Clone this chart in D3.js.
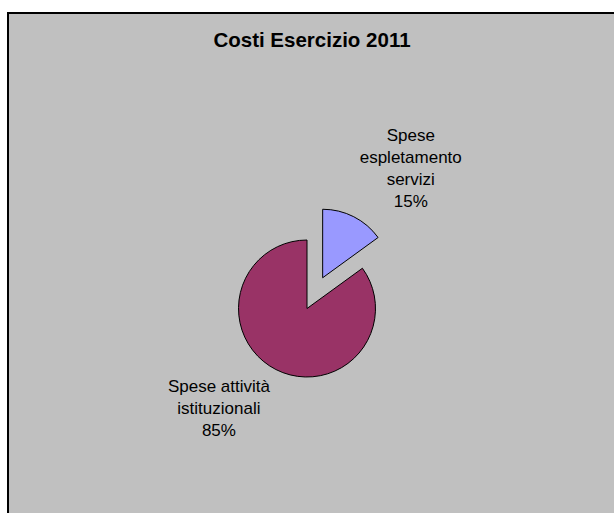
<!DOCTYPE html>
<html>
<head>
<meta charset="utf-8">
<script src="https://cdn.jsdelivr.net/npm/d3@7"></script>
<style>
  body { margin: 0; background: #fff; }
  svg { display: block; font-family: "Liberation Sans", Arial, sans-serif; }
</style>
</head>
<body>
<svg width="614" height="513"></svg>
<script>
// dati
const categories = ["Spese espletamento servizi", "Spese attività istituzionali"];
const values = [15, 85];
const labelLines = [["Spese", "espletamento", "servizi"], ["Spese attività", "istituzionali"]];
const colors = ["#9999FF", "#993366"];
const exploded = [true, false];
const title = "Costi Esercizio 2011";

const svg = d3.select("svg");
const width = +svg.attr("width");
const height = +svg.attr("height");

const cx = 307, cy = 308.5, radius = 68.5, explode = 34.5;

// sfondo area grafico
svg.append("rect")
  .attr("x", 8).attr("y", 13)
  .attr("width", width + 20).attr("height", height + 20)
  .attr("fill", "#C0C0C0")
  .attr("stroke", "#000")
  .attr("stroke-width", 2);

svg.append("text")
  .attr("x", 312).attr("y", 47)
  .attr("text-anchor", "middle")
  .attr("font-weight", "bold")
  .attr("font-size", "20.5px")
  .text(title);

const total = d3.sum(values);
const pie = d3.pie().sort(null).value(d => d.value);
const arc = d3.arc().innerRadius(0).outerRadius(radius);

const data = categories.map((c, i) => ({
  name: c, value: values[i], color: colors[i], lines: labelLines[i], exploded: exploded[i]
}));

const arcs = pie(data);

const g = svg.append("g").attr("transform", `translate(${cx},${cy})`);

arcs.forEach(function(a) {
  const mid = (a.startAngle + a.endAngle) / 2;
  const off = a.data.exploded ? explode : 0;
  const ox = Math.sin(mid) * off, oy = -Math.cos(mid) * off;

  g.append("path")
    .attr("d", arc(a))
    .attr("transform", `translate(${ox},${oy})`)
    .attr("fill", a.data.color)
    .attr("stroke", "#000")
    .attr("stroke-width", 1);

  // etichetta: angolo del riquadro sul punto esterno
  const ax = ox + Math.sin(mid) * (radius + 6.5);
  const ay = oy - Math.cos(mid) * (radius + 6.5);
  const lines = a.data.lines.concat([d3.format(".0%")(a.data.value / total)]);
  const lh = 22;

  const t = g.append("text")
    .attr("font-size", "17px")
    .attr("text-anchor", "middle")
    .attr("fill", "#000");
  lines.forEach(l => t.append("tspan").text(l));
  const w = d3.max(t.selectAll("tspan").nodes(), n => n.getComputedTextLength()) + 6;

  const boxX = Math.sin(mid) >= 0 ? ax + w / 2 : ax - w / 2;
  const top = Math.cos(mid) >= 0 ? ay - lines.length * lh + 1.5 : ay;
  t.selectAll("tspan")
    .attr("x", boxX)
    .attr("y", (d, i) => top + 17 + i * lh);
});
</script>
</body>
</html>
